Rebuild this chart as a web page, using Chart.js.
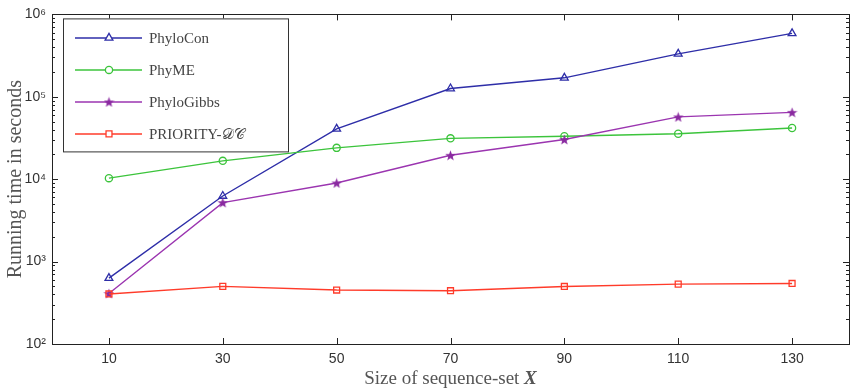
<!DOCTYPE html>
<html>
<head>
<meta charset="utf-8">
<script src="https://cdn.jsdelivr.net/npm/chart.js@4/dist/chart.umd.min.js"></script>
<style>
  html, body { margin: 0; padding: 0; background: #fff; }
</style>
</head>
<body>
<canvas id="runtimeChart" width="855" height="390"></canvas>
<script>
// values
const sizes = [10, 30, 50, 70, 90, 110, 130];
const phyloCon = [630, 6250, 40800, 126000, 170000, 332000, 588000];
const phyME = [10300, 16700, 24000, 31300, 33200, 35600, 41800];
const phyloGibbs = [410, 5200, 9000, 19500, 30300, 57000, 64800];
const priorityDC = [405, 500, 452, 443, 499, 533, 543];

const seriesNames = ['PhyloCon', 'PhyME', 'PhyloGibbs', 'PRIORITY-𝒟𝒞'];
const xTicks = [10, 30, 50, 70, 90, 110, 130];
const yTicks = [100, 1000, 10000, 100000, 1000000];
const yTickLabels = ['10²', '10³', '10⁴', '10⁵', '10⁶'];

const serif = '"Liberation Serif", "DejaVu Serif", serif';
const sans = '"Liberation Sans", Arial, sans-serif';

// filled five point star for PhyloGibbs
function makeStar(size, color) {
    const c = document.createElement('canvas');
    c.width = size; c.height = size;
    const g = c.getContext('2d');
    const cx = size / 2, cy = size / 2 + 0.5, R = size / 2, r = R * 0.42;
    g.beginPath();
    for (let i = 0; i < 10; i++) {
        const rad = i % 2 === 0 ? R : r;
        const a = -Math.PI / 2 + i * Math.PI / 5;
        g.lineTo(cx + rad * Math.cos(a), cy + rad * Math.sin(a));
    }
    g.closePath();
    g.fillStyle = color;
    g.fill();
    return c;
}

const colors = ['#2e2ea8', '#3cc43c', '#9b35b0', '#ff3b2a'];
const starImg = makeStar(11, '#8a2aa0');

function pts(arr) {
    return arr.map((v, i) => ({ x: sizes[i], y: v }));
}

// MATLAB style inward ticks on all four sides + frame
const frameTicks = {
    id: 'frameTicks',
    afterDatasetsDraw(chart) {
        const ctx = chart.ctx;
        const a = chart.chartArea;
        const xs = chart.scales.x, ys = chart.scales.y;
        ctx.save();
        ctx.strokeStyle = '#222';
        ctx.lineWidth = 1;
        ctx.beginPath();
        xTicks.forEach(v => {
            const px = Math.round(xs.getPixelForValue(v)) + 0.5;
            ctx.moveTo(px, a.bottom); ctx.lineTo(px, a.bottom - 6);
            ctx.moveTo(px, a.top); ctx.lineTo(px, a.top + 6);
        });
        const lo = Math.log10(ys.min), hi = Math.log10(ys.max);
        for (let d = lo; d <= hi; d++) {
            const major = Math.pow(10, d);
            const py = Math.round(ys.getPixelForValue(major)) + 0.5;
            ctx.moveTo(a.left, py); ctx.lineTo(a.left + 6, py);
            ctx.moveTo(a.right, py); ctx.lineTo(a.right - 6, py);
            if (d < hi) {
                for (let m = 2; m <= 9; m++) {
                    const my = Math.round(ys.getPixelForValue(m * major)) + 0.5;
                    ctx.moveTo(a.left, my); ctx.lineTo(a.left + 3, my);
                    ctx.moveTo(a.right, my); ctx.lineTo(a.right - 3, my);
                }
            }
        }
        ctx.stroke();
        ctx.strokeRect(Math.round(a.left) + 0.5, Math.round(a.top) + 0.5,
            Math.round(a.right - a.left), Math.round(a.bottom - a.top));
        ctx.restore();
    }
};

// legend box in the upper left corner of the plot
const insideLegend = {
    id: 'insideLegend',
    afterDraw(chart) {
        const ctx = chart.ctx;
        const a = chart.chartArea;
        const bx = a.left + 11, by = a.top + 4, bw = 225, bh = 133;
        ctx.save();
        ctx.fillStyle = '#fff';
        ctx.fillRect(bx, by, bw, bh);
        ctx.strokeStyle = '#333';
        ctx.lineWidth = 1;
        ctx.strokeRect(bx + 0.5, by + 0.5, bw, bh);
        chart.data.datasets.forEach((ds, i) => {
            const y = by + 19.5 + i * 32;
            ctx.strokeStyle = ds.borderColor;
            ctx.lineWidth = 1.5;
            ctx.beginPath();
            ctx.moveTo(bx + 12, y); ctx.lineTo(bx + 79, y);
            ctx.stroke();
            ctx.fillStyle = 'rgba(255,255,255,1)';
            ctx.lineWidth = 1.3;
            Chart.helpers.drawPoint(ctx, {
                pointStyle: ds.pointStyle,
                radius: ds.pointRadius,
                borderWidth: 1.3
            }, bx + 46, y);
            ctx.fillStyle = '#444';
            ctx.font = '15px ' + serif;
            ctx.textBaseline = 'middle';
            ctx.fillText(ds.label, bx + 86, y + 1);
        });
        ctx.restore();
    }
};

// x axis title with bold italic X
const xTitle = {
    id: 'xTitle',
    afterDraw(chart) {
        const ctx = chart.ctx;
        const a = chart.chartArea;
        const t1 = 'Size of sequence-set ', t2 = 'X';
        ctx.save();
        ctx.fillStyle = '#555';
        ctx.textBaseline = 'alphabetic';
        ctx.font = '19px ' + serif;
        const w1 = ctx.measureText(t1).width;
        ctx.font = 'italic bold 19px ' + serif;
        const w2 = ctx.measureText(t2).width;
        const x0 = (a.left + a.right) / 2 - (w1 + w2) / 2;
        ctx.font = '19px ' + serif;
        ctx.fillText(t1, x0, 384);
        ctx.font = 'italic bold 19px ' + serif;
        ctx.fillText(t2, x0 + w1, 384);
        ctx.restore();
    }
};

const ctx = document.getElementById('runtimeChart').getContext('2d');
new Chart(ctx, {
    type: 'line',
    data: {
        datasets: [
            {
                label: seriesNames[0], data: pts(phyloCon), order: 3,
                borderColor: colors[0], backgroundColor: 'rgba(0,0,0,0)',
                pointStyle: 'triangle', pointRadius: 4.5, pointBorderColor: colors[0],
                pointBackgroundColor: 'rgba(0,0,0,0)', pointBorderWidth: 1.3
            },
            {
                label: seriesNames[1], data: pts(phyME), order: 2,
                borderColor: colors[1], backgroundColor: 'rgba(0,0,0,0)',
                pointStyle: 'circle', pointRadius: 3.6, pointBorderColor: colors[1],
                pointBackgroundColor: 'rgba(0,0,0,0)', pointBorderWidth: 1.3
            },
            {
                label: seriesNames[2], data: pts(phyloGibbs), order: 1,
                borderColor: colors[2], backgroundColor: 'rgba(0,0,0,0)',
                pointStyle: starImg, pointRadius: 5, pointBorderWidth: 1
            },
            {
                label: seriesNames[3], data: pts(priorityDC), order: 0,
                borderColor: colors[3], backgroundColor: 'rgba(0,0,0,0)',
                pointStyle: 'rect', pointRadius: 4.2, pointBorderColor: colors[3],
                pointBackgroundColor: 'rgba(0,0,0,0)', pointBorderWidth: 1.3
            }
        ]
    },
    options: {
        responsive: false,
        animation: false,
        events: [],
        elements: { line: { borderWidth: 1.4, tension: 0 } },
        layout: { padding: { top: 10, right: 6, left: 0, bottom: 0 } },
        plugins: {
            legend: { display: false },
            tooltip: { enabled: false }
        },
        scales: {
            x: {
                type: 'linear',
                min: 0,
                max: 140,
                afterBuildTicks: (scale) => { scale.ticks = xTicks.map(v => ({ value: v })); },
                afterFit: (scale) => { scale.height = 46; },
                grid: { display: false, drawTicks: false },
                border: { display: false },
                ticks: {
                    padding: 7,
                    maxRotation: 0,
                    color: '#333',
                    font: { family: sans, size: 14 }
                },
                title: { display: false }
            },
            y: {
                type: 'logarithmic',
                min: 100,
                max: 1000000,
                afterBuildTicks: (scale) => { scale.ticks = yTicks.map(v => ({ value: v })); },
                afterFit: (scale) => { scale.width = 52; },
                grid: { display: false, drawTicks: false },
                border: { display: false },
                ticks: {
                    padding: 6,
                    color: '#333',
                    font: { family: sans, size: 14 },
                    callback: (v) => yTickLabels[yTicks.indexOf(v)]
                },
                title: {
                    display: true,
                    text: 'Running time in seconds',
                    color: '#555',
                    font: { family: serif, size: 20 },
                    padding: { top: 4, bottom: 0 }
                }
            }
        }
    },
    plugins: [frameTicks, insideLegend, xTitle]
});
</script>
</body>
</html>
